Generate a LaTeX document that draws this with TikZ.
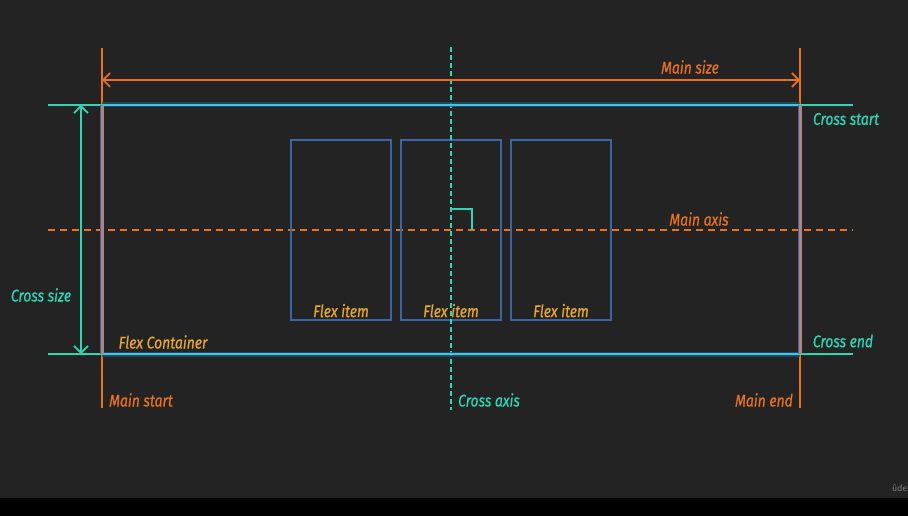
\documentclass[tikz,border=0pt]{standalone}
\usepackage{fontspec}
\setmainfont{Fira Sans}[FakeStretch=0.82,FakeBold=0.6]
\usetikzlibrary{arrows.meta,positioning}
\definecolor{bgdark}{HTML}{232323}
\definecolor{mainor}{HTML}{E8721C}
\definecolor{crosscy}{HTML}{2AD8B6}
\definecolor{contbl}{HTML}{3EC6F0}
\definecolor{itembl}{HTML}{3A66A4}
\definecolor{lblgold}{HTML}{E8A828}
\definecolor{sidepk}{HTML}{B08480}

\begin{document}
\begin{tikzpicture}[x=1pt,y=-1pt,
  every node/.style={font=\itshape\fontsize{17}{17}\selectfont,inner sep=0pt},
  mainln/.style={mainor,line width=1.6pt},
  crossln/.style={crosscy,line width=1.6pt},
  dimarr/.style={{Straight Barb[length=7pt,width=14pt]}-{Straight Barb[length=7pt,width=14pt]},line width=1.6pt},
  item/.style={draw=itembl,line width=1.2pt,minimum width=100pt,minimum height=180pt},
  glow/.style={contbl!45!black,line width=5pt,opacity=0.7},
  edge/.style={contbl,line width=2.5pt},
  side/.style={sidepk,line width=3pt}]
 % background
 \fill[bgdark] (0,0) rectangle (908,498);
 \fill[black] (0,498) rectangle (908,516);
 \useasboundingbox (0,0) rectangle (908,516);
 % corner points of the container
 \coordinate (tl) at (102,105);
 \coordinate (tr) at (800,105);
 \coordinate (bl) at (102,354);
 \coordinate (br) at (800,354);
 % main start / main end guides
 \coordinate (ms0) at (102,48);  \coordinate (ms1) at (102,408);
 \coordinate (me0) at (800,48);  \coordinate (me1) at (800,408);
 \draw[mainln] (ms0)--(ms1);
 \draw[mainln] (me0)--(me1);
 % cross start / cross end guides
 \coordinate (cs0) at (48,105);  \coordinate (cs1) at (853,105);
 \coordinate (ce0) at (48,354);  \coordinate (ce1) at (853,354);
 \draw[crossln] (cs0)--(cs1);
 \draw[crossln] (ce0)--(ce1);
 % main axis and cross axis
 \coordinate (ma0) at (48,230);  \coordinate (ma1) at (853,230);
 \coordinate (ca0) at (451,47);  \coordinate (ca1) at (451,410);
 \draw[mainor,line width=1.8pt,dash pattern=on 7pt off 5pt] (ma0)--(ma1);
 % flex items
 \foreach \i/\x in {1/341,2/451,3/561}{
   \node[item] (fi\i) at (\x,230) {};
   \node[lblgold,above=3pt of fi\i.south] (fl\i) {Flex item};
 }
 \draw[crosscy,line width=1.8pt,dash pattern=on 5pt off 3pt] (ca0)--(ca1);
 % right angle mark
 \coordinate (ra0) at (451,209);
 \coordinate (ra1) at (472,209);
 \coordinate (ra2) at (472,230);
 \draw[crosscy,line width=1.8pt] (ra0)--(ra1)--(ra2);
 % container edges
 \draw[glow] (tl)--(tr);
 \draw[glow] (bl)--(br);
 \draw[edge] (tl)--(tr);
 \draw[edge] (bl)--(br);
 \draw[itembl,line width=4.4pt] (tl)--(bl);
 \draw[itembl,line width=4.4pt] (tr)--(br);
 \draw[side] (tl)--(bl);
 \draw[side] (tr)--(br);
 % size arrows
 \coordinate (mz0) at (102,80);  \coordinate (mz1) at (800,80);
 \coordinate (cz0) at (81,105);  \coordinate (cz1) at (81,354);
 \draw[dimarr,mainor] (mz0)--(mz1);
 \draw[dimarr,crosscy] (cz0)--(cz1);
 % labels
 \node[mainor] (mainsize) at (690,67) {Main size};
 \node[mainor] (mainaxis) at (699,219) {Main axis};
 \node[mainor] (mainstart) at (141,400) {Main start};
 \node[mainor] (mainend) at (764,400) {Main end};
 \node[crosscy] (crossstart) at (846,119) {Cross start};
 \node[crosscy] (crossend) at (843,341) {Cross end};
 \node[crosscy] (crosssize) at (41,295) {Cross size};
 \node[crosscy] (crossaxis) at (489,400) {Cross axis};
 \node[lblgold] (contlbl) at (163,342) {Flex Container};
 \node[gray,font=\sffamily\fontsize{10}{10}\selectfont,anchor=west] (wm) at (892,488) {ûde};
\end{tikzpicture}
\end{document}
